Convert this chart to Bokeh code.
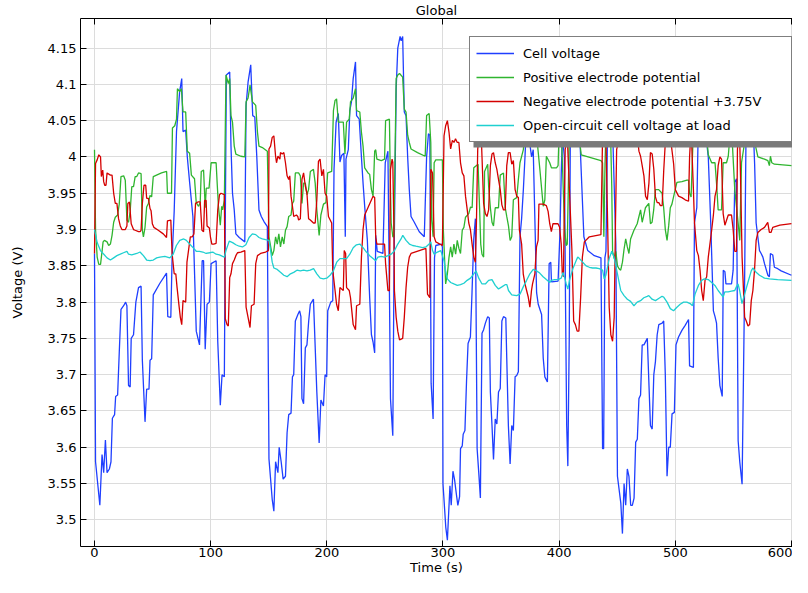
from bokeh.plotting import figure
from bokeh.models import (Range1d, FixedTicker, LinearAxis, Legend, LegendItem,
                          BoxAnnotation, CustomJSTickFormatter)
from bokeh.embed import file_html
from bokeh.resources import INLINE

# ---------------- data ----------------
x_ticks = [0, 100, 200, 300, 400, 500, 600]
y_ticks = [3.5, 3.55, 3.6, 3.65, 3.7, 3.75, 3.8, 3.85, 3.9, 3.95, 4.0, 4.05, 4.1, 4.15]
series_names = ["Cell voltage", "Positive electrode potential",
                "Negative electrode potential +3.75V", "Open-circuit cell voltage at load"]

cell_t = [0, 0.9, 4.6, 6.5, 7.9, 9.4, 10.8, 12.8, 14.2, 15.4, 17.3, 18.2, 19.9, 21.3, 22.8, 25.1, 26.8, 27.9, 29.3, 30.7,
          31.6, 33.6, 35.6, 37.9, 40.1, 41.2, 43.5, 44.9, 46.9, 47.8, 49.2, 50.6, 56.3, 62.0, 63.1, 65.7, 66.8, 68.6, 70.6, 73.3,
          75.1, 76.2, 78.5, 79.9, 81.9, 84.7, 87.6, 90.4, 92.7, 93.9, 95.3, 96.9, 98.9, 100.4, 104.7, 106.1, 108.3, 109.8, 111.8, 112.6,
          113.5, 116.4, 117.5, 118.8, 120.3, 121.7, 124.6, 129.4, 130.5, 132.2, 134.5, 136.2, 138.0, 139.7, 141.6, 143.6, 145.9, 148.8, 150.2, 153.0,
          154.4, 155.9, 157.9, 159.0, 160.7, 162.4, 164.4, 165.8, 167.2, 169.2, 170.4, 171.5, 172.9, 175.1, 176.6, 177.7, 178.6, 180.0, 181.5, 182.9,
          184.4, 185.8, 188.5, 191.4, 193.4, 194.9, 197.1, 198.5, 199.9, 200.8, 203.4, 205.1, 206.2, 208.0, 209.9, 211.3, 212.7, 214.7, 215.9, 216.5,
          218.5, 219.8, 221.2, 222.7, 224.7, 225.6, 227.9, 229.8, 231.2, 232.6, 234.9, 236.9, 238.4, 239.8, 241.2, 242.1, 243.4, 248.3, 250.3, 252.6,
          253.9, 254.8, 256.8, 257.9, 259.7, 261.1, 263.1, 264.0, 265.3, 266.7, 268.2, 269.6, 271.0, 272.5, 275.3, 279.6, 283.9, 285.9, 287.5, 288.7,
          289.8, 291.5, 292.7, 293.8, 298.6, 299.5, 300.0, 302.4, 303.8, 306.0, 307.1, 308.6, 310.0, 311.4, 312.8, 314.3, 315.1, 316.6, 317.4, 318.9,
          320.3, 321.6, 323.6, 325.0, 326.5, 327.9, 329.4, 330.8, 332.2, 333.6, 335.0, 336.5, 338.5, 339.9, 340.8, 342.2, 343.5, 345.0, 346.4, 347.8,
          349.3, 350.7, 352.1, 354.1, 354.9, 356.3, 357.8, 359.2, 360.6, 362.1, 363.5, 364.9, 366.3, 367.7, 369.2, 370.6, 372.0, 376.3, 377.7, 380.6,
          382.0, 384.9, 386.3, 387.7, 389.9, 391.4, 392.8, 393.4, 399.1, 400.8, 401.8, 402.8, 404.5, 405.5, 406.5, 407.5, 408.7, 409.7, 417.5, 421.3,
          424.6, 430.3, 436.0, 437.4, 438.3, 439.4, 440.3, 441.7, 446.0, 448.8, 450.2, 453.1, 454.5, 455.9, 457.3, 458.7, 460.1, 461.6, 463.0, 464.5,
          465.9, 467.3, 468.7, 470.1, 471.5, 473.0, 475.9, 478.6, 480.1, 481.5, 482.9, 484.4, 485.8, 488.7, 490.0, 491.4, 492.9, 494.3, 495.7, 497.2,
          499.2, 500.6, 502.8, 505.7, 508.5, 511.4, 512.3, 515.6, 516.5, 518.5, 519.9, 525.6, 528.4, 530.5, 532.8, 534.2, 535.5, 536.9, 538.4, 540.4,
          541.3, 542.7, 543.6, 548.4, 549.8, 551.2, 552.7, 554.1, 555.5, 557.5, 559.5, 561.0, 566.9, 568.3, 569.6, 572.5, 573.9, 575.4, 576.8, 579.7,
          581.0, 581.9, 583.9, 585.3, 588.2, 591.1, 600.0]
cell_v = [3.867, 3.58, 3.52, 3.59, 3.565, 3.61, 3.565, 3.57, 3.58, 3.64, 3.645, 3.67, 3.672, 3.73, 3.79, 3.795, 3.80, 3.795, 3.685, 3.683,
          3.75, 3.755, 3.80, 3.82, 3.822, 3.72, 3.635, 3.68, 3.68, 3.72, 3.722, 3.81, 3.826, 3.84, 3.78, 3.779, 3.86, 3.925, 4.035, 4.09,
          4.108, 4.035, 4.037, 4.0, 3.965, 3.918, 3.76, 3.741, 3.857, 3.857, 3.735, 3.797, 3.80, 3.853, 3.857, 3.746, 3.658, 3.70, 3.697, 3.91,
          4.113, 4.117, 4.015, 3.95, 3.927, 3.894, 3.889, 3.883, 4.071, 4.103, 4.127, 4.057, 4.055, 4.001, 3.927, 3.918, 3.911, 3.904, 3.584, 3.528,
          3.512, 3.58, 3.565, 3.60, 3.58, 3.556, 3.56, 3.62, 3.645, 3.647, 3.697, 3.70, 3.774, 3.783, 3.788, 3.78, 3.667, 3.66, 3.737, 3.741,
          3.774, 3.797, 3.804, 3.676, 3.606, 3.665, 3.657, 3.70, 3.697, 3.788, 3.80, 3.802, 3.983, 4.048, 4.06, 3.993, 4.002, 4.005, 3.89, 3.997,
          4.01, 4.064, 4.076, 4.108, 4.131, 4.057, 4.052, 4.0, 3.964, 3.932, 3.885, 3.806, 3.755, 3.745, 3.73, 3.892, 3.87, 3.867, 3.992, 4.008,
          3.816, 3.667, 3.616, 3.861, 4.094, 4.15, 4.166, 4.16, 4.166, 4.062, 4.057, 4.0, 3.955, 3.918, 3.91, 3.897, 3.89, 4.0, 4.032, 4.03,
          3.688, 3.639, 3.861, 3.878, 3.88, 3.876, 3.55, 3.49, 3.472, 3.547, 3.52, 3.567, 3.555, 3.537, 3.52, 3.532, 3.598, 3.602, 3.618, 3.623,
          3.692, 3.743, 3.752, 3.813, 3.887, 3.915, 3.598, 3.565, 3.53, 3.757, 3.762, 3.771, 3.78, 3.778, 3.676, 3.63, 3.583, 3.639, 3.632, 3.676,
          3.681, 3.774, 3.78, 3.778, 3.723, 3.63, 3.577, 3.63, 3.623, 3.697, 3.699, 3.704, 3.89, 3.915, 3.955, 4.0, 4.05, 4.0, 4.01, 3.813,
          3.797, 3.783, 3.723, 3.697, 3.69, 3.853, 3.855, 3.828, 3.829, 3.9, 3.976, 4.03, 4.0, 3.80, 3.63, 3.574, 3.75, 4.05, 4.04, 3.89,
          3.871, 3.864, 3.861, 3.598, 3.598, 3.861, 3.87, 4.04, 4.04, 3.88, 3.56, 3.523, 3.481, 3.55, 3.52, 3.57, 3.56, 3.52, 3.52, 3.53,
          3.607, 3.611, 3.667, 3.672, 3.741, 3.741, 3.75, 3.63, 3.625, 3.70, 3.718, 3.755, 3.769, 3.771, 3.774, 3.70, 3.56, 3.60, 3.60, 3.646,
          3.648, 3.741, 3.752, 3.761, 3.768, 3.776, 3.712, 3.71, 3.909, 3.93, 4.05, 4.04, 4.0, 3.909, 3.788, 3.78, 3.771, 3.723, 3.685, 3.67,
          3.844, 3.842, 3.825, 3.825, 3.844, 3.965, 3.97, 3.609, 3.58, 3.549, 3.80, 4.05, 4.05, 3.99, 3.909, 3.871, 3.867, 3.862, 3.853, 3.837,
          3.835, 3.867, 3.865, 3.848, 3.846, 3.843, 3.837]

pos_t = [0, 0.9, 2.3, 3.7, 5.2, 6.5, 7.4, 8.5, 10.8, 12.2, 13.7, 15.1, 16.5, 17.9, 19.9, 21.3, 22.8, 25.1, 26.5, 27.9,
         29.3, 30.7, 32.1, 33.6, 35.0, 36.4, 37.9, 40.1, 41.2, 42.1, 43.5, 44.9, 46.4, 47.8, 49.2, 50.6, 53.4, 57.7, 62.1, 62.8,
         66.3, 67.1, 69.1, 70.6, 71.4, 73.3, 74.8, 76.2, 78.5, 79.9, 81.9, 83.4, 86.1, 87.6, 89.6, 91.0, 91.9, 93.9, 95.3, 96.2,
         98.6, 100.4, 104.7, 105.6, 106.7, 108.3, 109.5, 110.3, 111.8, 113.2, 115.2, 116.4, 117.5, 118.8, 120.3, 121.7, 126.0, 129.4, 130.5, 132.2,
         133.9, 136.0, 138.8, 140.3, 141.6, 144.5, 148.8, 150.2, 153.0, 154.4, 155.9, 157.3, 158.7, 160.1, 161.6, 163.0, 164.4, 165.8, 167.2, 169.2,
         170.4, 171.5, 172.9, 175.7, 177.2, 178.6, 180.0, 181.5, 182.9, 184.3, 185.8, 188.5, 190.0, 191.4, 193.4, 194.9, 197.1, 199.2, 200.7, 204.2,
         205.7, 207.1, 208.4, 209.9, 214.2, 215.6, 217.0, 219.3, 220.4, 222.7, 224.7, 225.6, 228.4, 229.8, 231.2, 232.6, 235.5, 236.9, 238.4, 239.8,
         241.2, 242.1, 243.1, 246.9, 249.7, 250.6, 253.9, 254.8, 255.4, 256.8, 257.7, 259.7, 261.1, 262.6, 265.3, 266.7, 268.2, 269.6, 271.0, 272.5,
         278.1, 284.7, 285.9, 288.1, 289.5, 290.3, 291.5, 292.4, 293.8, 299.5, 300.3, 302.3, 303.8, 305.2, 306.6, 308.0, 309.4, 310.9, 312.3, 313.7,
         315.1, 316.6, 318.0, 319.4, 322.2, 323.7, 325.1, 326.5, 330.2, 331.5, 332.5, 333.6, 335.0, 335.8, 338.5, 339.3, 340.8, 342.2, 343.5, 345.0,
         347.8, 349.3, 352.1, 353.6, 354.9, 356.4, 357.8, 359.2, 360.6, 363.5, 364.9, 366.3, 369.2, 370.6, 372.7, 380.6, 383.4, 386.3, 387.7, 389.0,
         391.9, 393.4, 397.7, 399.1, 399.7, 401.4, 404.7, 406.1, 407.0, 409.0, 414.3, 419.0, 436.0, 437.4, 438.5, 439.5, 440.5, 444.0, 445.3, 446.0,
         447.4, 448.8, 450.2, 451.6, 453.0, 454.5, 455.9, 457.3, 458.7, 460.1, 461.5, 464.4, 467.2, 470.1, 471.5, 474.3, 477.2, 478.6, 480.0, 481.4,
         482.9, 485.7, 488.6, 490.0, 491.4, 492.9, 494.3, 495.7, 497.1, 498.5, 501.4, 505.7, 510.0, 511.4, 512.3, 513.6, 515.6, 520.4, 525.3, 528.4,
         531.3, 534.2, 535.5, 536.9, 539.8, 541.2, 544.1, 545.6, 548.1, 551.2, 554.1, 555.5, 557.0, 559.7, 565.0, 568.4, 571.1, 576.8, 579.7, 581.0,
         581.9, 583.1, 585.3, 600.0]
pos_v = [4.01, 3.90, 3.862, 3.852, 3.852, 3.87, 3.883, 3.885, 3.883, 3.878, 3.88, 3.892, 3.91, 3.917, 3.92, 3.935, 3.973, 3.974, 3.968, 3.913,
         3.91, 3.925, 3.959, 3.959, 3.973, 3.973, 3.978, 3.977, 3.899, 3.89, 3.903, 3.931, 3.936, 3.947, 3.945, 3.973, 3.975, 3.978, 3.98, 3.95,
         3.95, 4.04, 4.043, 4.052, 4.094, 4.09, 4.094, 4.062, 4.062, 4.008, 4.005, 3.975, 3.97, 3.937, 3.932, 3.937, 3.98, 3.982, 3.93, 3.957,
         3.957, 3.992, 3.992, 3.964, 3.932, 3.906, 3.932, 3.927, 3.941, 4.113, 4.101, 4.108, 4.057, 4.048, 4.015, 4.004, 4.001, 4.0, 4.076, 4.081,
         4.099, 4.076, 4.071, 4.034, 4.015, 4.013, 4.008, 3.89, 3.864, 3.871, 3.89, 3.88, 3.894, 3.876, 3.89, 3.88, 3.899, 3.904, 3.918, 3.92,
         3.936, 3.939, 3.978, 3.978, 3.974, 3.936, 3.964, 3.964, 3.948, 3.955, 3.98, 3.983, 3.964, 3.927, 3.892, 3.92, 3.935, 3.937, 3.978, 3.98,
         4.064, 4.078, 4.08, 4.048, 4.048, 4.004, 4.048, 4.052, 4.076, 4.081, 4.094, 4.064, 4.062, 4.034, 4.015, 3.985, 3.978, 3.976, 3.955, 3.946,
         4.008, 4.01, 3.997, 3.995, 3.997, 4.05, 4.052, 3.955, 3.909, 3.89, 3.89, 4.108, 4.113, 4.115, 4.11, 4.066, 4.062, 4.03, 4.02, 4.011,
         4.006, 4.001, 4.057, 4.06, 4.02, 3.913, 3.89, 3.992, 3.996, 3.996, 3.90, 3.825, 3.839, 3.862, 3.876, 3.862, 3.88, 3.866, 3.885, 3.874,
         3.867, 3.899, 3.903, 3.917, 3.922, 3.931, 3.93, 3.985, 3.99, 3.93, 3.88, 3.866, 3.862, 3.98, 3.99, 3.96, 3.93, 3.91, 3.905, 3.93,
         3.93, 3.975, 3.978, 3.93, 3.918, 3.905, 3.885, 3.89, 3.941, 3.944, 3.969, 3.992, 4.01, 4.04, 4.06, 4.03, 3.983, 3.932, 3.941, 4.001,
         3.992, 3.985, 3.985, 3.988, 4.02, 4.06, 3.90, 3.878, 3.88, 4.05, 4.07, 4.003, 3.995, 3.992, 3.89, 3.99, 4.05, 4.05, 3.96, 3.87,
         3.86, 3.87, 3.85, 3.846, 3.844, 3.855, 3.873, 3.887, 3.876, 3.867, 3.887, 3.899, 3.908, 3.927, 3.91, 3.93, 3.936, 3.908, 3.91, 3.927,
         3.955, 3.955, 3.95, 3.93, 3.90, 3.885, 3.905, 3.93, 3.935, 3.945, 3.965, 3.966, 3.968, 3.968, 3.95, 3.945, 4.04, 4.07, 4.06, 4.003,
         3.992, 3.992, 3.964, 3.927, 3.927, 3.992, 3.992, 4.001, 4.05, 3.955, 3.909, 3.885, 3.992, 4.02, 4.05, 4.02, 4.0, 3.997, 3.995, 3.988,
         4.001, 3.992, 3.99, 3.988]

neg_t = [0, 0.9, 2.3, 3.7, 5.2, 5.9, 7.1, 7.9, 8.8, 9.9, 10.8, 13.7, 15.1, 16.5, 17.9, 19.3, 20.7, 22.2, 23.6, 26.5,
         27.9, 28.7, 30.1, 31.6, 33.6, 35.0, 37.9, 39.3, 40.1, 41.2, 42.6, 44.1, 44.9, 46.4, 47.8, 48.7, 49.8, 51.1, 54.9, 59.2,
         62.0, 62.8, 65.7, 66.8, 68.6, 70.0, 71.1, 72.9, 73.9, 75.1, 76.2, 78.5, 79.6, 81.1, 82.5, 84.2, 85.6, 87.0, 89.0, 91.0,
         92.5, 93.9, 94.8, 96.1, 96.9, 98.9, 99.8, 101.0, 102.7, 104.7, 106.1, 107.6, 108.9, 111.8, 112.6, 114.1, 115.2, 116.4, 117.5, 118.8,
         120.3, 121.7, 123.1, 126.0, 129.4, 130.5, 132.2, 133.9, 135.1, 137.4, 138.8, 140.3, 143.0, 147.3, 149.7, 150.2, 151.6, 153.0, 154.4, 155.9,
         156.7, 157.9, 159.6, 160.1, 161.6, 163.0, 164.4, 165.8, 167.2, 168.1, 169.2, 170.1, 171.5, 173.8, 175.0, 175.7, 177.2, 178.6, 180.0, 181.5,
         182.9, 184.3, 185.8, 188.5, 190.0, 191.4, 192.8, 194.2, 195.7, 197.1, 198.5, 199.9, 201.4, 204.2, 205.1, 207.1, 208.4, 209.9, 211.3, 212.7,
         214.2, 215.0, 216.2, 217.0, 219.3, 220.4, 221.2, 222.7, 224.7, 225.6, 228.4, 229.8, 231.2, 232.6, 239.8, 241.2, 242.1, 243.1, 249.7, 250.6,
         252.6, 253.9, 254.8, 256.2, 256.8, 257.7, 258.2, 259.7, 261.1, 262.6, 265.3, 266.7, 268.2, 269.6, 271.0, 272.5, 279.6, 285.3, 286.7, 288.7,
         289.5, 291.0, 292.4, 293.8, 299.5, 300.9, 302.3, 303.8, 305.2, 306.6, 308.1, 309.5, 310.8, 312.3, 313.7, 315.1, 316.6, 318.0, 319.4, 320.9,
         322.2, 323.6, 325.0, 326.5, 327.9, 328.8, 329.9, 331.4, 332.5, 333.6, 335.0, 336.5, 337.9, 339.3, 340.8, 342.2, 343.5, 345.0, 346.4, 347.8,
         349.3, 350.7, 352.1, 353.6, 354.9, 356.3, 357.8, 359.2, 360.6, 362.1, 363.5, 364.9, 365.8, 367.7, 369.1, 370.6, 372.0, 373.4, 374.8, 376.2,
         377.1, 379.1, 380.5, 381.9, 382.6, 386.2, 389.0, 390.5, 391.9, 393.3, 394.7, 399.0, 400.4, 401.8, 402.7, 403.7, 405.2, 407.0, 408.6, 409.8,
         411.0, 412.5, 414.0, 415.5, 417.0, 418.5, 420.0, 421.7, 426.0, 436.0, 437.4, 440.0, 441.6, 443.1, 444.5, 446.0, 447.4, 448.5, 449.5, 455.0,
         460.0, 466.0, 468.7, 470.1, 471.5, 473.0, 474.4, 475.9, 477.3, 478.6, 480.1, 481.5, 482.9, 484.4, 485.8, 487.2, 488.7, 490.0, 491.4, 494.0,
         498.6, 500.0, 502.8, 505.7, 508.5, 511.4, 512.3, 513.6, 515.6, 516.5, 518.5, 519.9, 521.3, 522.7, 524.1, 525.6, 527.0, 528.4, 531.3, 532.8,
         534.2, 535.5, 536.9, 538.4, 539.8, 541.2, 542.7, 545.6, 548.4, 549.8, 551.2, 552.7, 553.5, 555.1, 556.4, 557.5, 559.7, 561.1, 562.6, 564.0,
         565.4, 566.8, 568.2, 569.6, 571.1, 573.9, 576.8, 579.6, 581.0, 582.4, 583.9, 590.0, 600.0]
neg_v = [3.867, 3.991, 3.996, 4.003, 4.0, 3.973, 3.982, 3.966, 3.961, 3.961, 3.978, 3.975, 3.975, 3.95, 3.936, 3.936, 3.915, 3.905, 3.90, 3.90,
         3.905, 3.936, 3.938, 3.908, 3.90, 3.899, 3.897, 3.897, 3.899, 3.936, 3.961, 3.961, 3.943, 3.943, 3.929, 3.926, 3.908, 3.903, 3.899, 3.894,
         3.889, 3.912, 3.913, 3.867, 3.839, 3.839, 3.82, 3.793, 3.779, 3.769, 3.802, 3.80, 3.855, 3.873, 3.89, 3.89, 3.894, 3.936, 3.938, 3.938,
         3.899, 3.897, 3.94, 3.94, 3.905, 3.902, 3.89, 3.88, 3.88, 3.881, 3.927, 3.948, 3.95, 3.948, 3.777, 3.769, 3.767, 3.834, 3.839, 3.853,
         3.858, 3.864, 3.868, 3.869, 3.871, 3.793, 3.779, 3.765, 3.795, 3.797, 3.853, 3.864, 3.867, 3.869, 3.871, 4.011, 4.015, 4.027, 4.029, 4.001,
         3.992, 4.001, 3.997, 4.006, 4.004, 4.006, 3.992, 3.974, 3.969, 3.974, 3.946, 3.936, 3.918, 3.92, 3.918, 3.913, 3.915, 3.969, 3.978, 3.96,
         3.95, 3.915, 3.913, 3.909, 3.909, 3.941, 3.994, 3.997, 3.974, 3.983, 3.95, 3.946, 3.918, 3.909, 3.844, 3.816, 3.797, 3.788, 3.82, 3.818,
         3.816, 3.871, 3.867, 3.82, 3.816, 3.806, 3.793, 3.769, 3.762, 3.795, 3.797, 3.862, 3.90, 3.92, 3.946, 3.944, 3.889, 3.88, 3.88, 3.853,
         3.816, 3.816, 3.983, 3.997, 3.993, 3.909, 3.816, 3.779, 3.76, 3.748, 3.75, 3.779, 3.82, 3.848, 3.862, 3.867, 3.871, 3.874, 3.811, 3.806,
         3.983, 3.978, 3.89, 3.883, 3.878, 4.029, 4.043, 4.05, 4.034, 4.011, 4.023, 4.02, 4.025, 4.02, 4.02, 3.992, 3.978, 3.974, 3.946, 3.927,
         3.909, 3.90, 3.881, 3.862, 3.855, 3.909, 4.01, 4.04, 4.05, 4.0, 3.936, 3.922, 3.918, 3.927, 3.988, 4.004, 4.006, 3.992, 3.983, 3.969,
         3.955, 3.934, 3.927, 3.927, 3.988, 4.006, 4.006, 3.99, 3.995, 3.955, 3.946, 3.944, 3.899, 3.88, 3.839, 3.825, 3.816, 3.807, 3.793, 3.816,
         3.825, 3.839, 3.876, 3.885, 3.935, 3.935, 3.933, 3.925, 3.908, 3.897, 3.908, 3.908, 3.903, 3.88, 3.84, 3.835, 4.01, 4.03, 3.965, 3.918,
         3.871, 3.774, 3.769, 3.76, 3.76, 3.806, 3.862, 3.883, 3.89, 3.893, 4.03, 4.05, 3.92, 3.793, 3.755, 3.746, 3.779, 3.909, 4.01, 4.05,
         4.04, 4.05, 4.008, 4.001, 3.988, 3.974, 3.946, 3.941, 3.964, 4.006, 4.004, 3.983, 3.945, 3.937, 3.937, 3.933, 3.933, 3.98, 4.02, 4.05,
         3.99, 3.955, 3.946, 3.944, 3.941, 3.939, 4.0, 4.04, 3.955, 3.91, 3.871, 3.864, 3.844, 3.816, 3.802, 3.83, 3.835, 3.862, 3.899, 3.92,
         3.946, 3.955, 3.988, 4.0, 3.997, 3.922, 3.906, 3.92, 3.92, 3.90, 3.87, 3.87, 4.01, 4.05, 3.955, 3.862, 3.779, 3.774, 3.767, 3.769,
         3.802, 3.816, 3.844, 3.885, 3.896, 3.90, 3.903, 3.91, 3.896, 3.896, 3.903, 3.906, 3.908]

ocv_t = [0, 2.3, 5.1, 8.0, 10.8, 13.7, 16.5, 19.3, 22.2, 25.0, 27.9, 29.3, 32.1, 36.4, 39.2, 42.1, 44.9, 47.8, 50.6, 53.5,
         56.3, 60.6, 64.8, 67.7, 70.5, 73.4, 76.8, 79.1, 81.9, 84.8, 87.6, 90.4, 93.3, 96.1, 99.0, 101.8, 104.7, 107.5, 110.3, 111.8,
         113.2, 116.0, 118.9, 121.7, 124.6, 127.4, 130.3, 133.1, 135.9, 138.8, 141.6, 144.5, 147.3, 150.2, 151.6, 153.0, 154.4, 157.3, 160.1, 163.0,
         165.8, 168.7, 171.5, 174.3, 177.2, 180.0, 182.9, 185.7, 188.6, 191.4, 194.3, 197.1, 199.9, 202.8, 205.6, 208.5, 211.3, 214.2, 217.0, 219.8,
         222.7, 225.5, 228.4, 231.2, 234.1, 236.9, 239.8, 242.0, 244.0, 246.9, 249.7, 252.6, 255.4, 258.3, 261.1, 263.9, 265.4, 268.2, 271.1, 273.9,
         276.7, 279.6, 282.4, 285.3, 288.1, 289.5, 291.0, 292.4, 295.2, 298.1, 300.9, 302.3, 303.8, 306.6, 309.4, 312.3, 315.1, 318.0, 320.8, 323.7,
         326.5, 328.5, 330.8, 333.6, 336.5, 339.3, 342.2, 345.0, 347.8, 350.7, 353.5, 355.0, 356.4, 359.2, 363.4, 366.3, 369.1, 372.0, 374.8, 377.7,
         380.5, 383.3, 386.2, 389.0, 391.9, 393.3, 396.1, 399.0, 401.8, 403.3, 404.7, 406.1, 407.5, 408.9, 411.8, 414.6, 416.0, 417.5, 420.3, 423.2,
         426.0, 428.8, 431.7, 434.5, 437.4, 438.8, 440.2, 441.6, 443.1, 445.3, 447.3, 450.2, 453.0, 455.9, 458.7, 461.5, 464.4, 467.2, 470.1, 472.9,
         475.8, 477.2, 480.0, 482.9, 485.7, 488.6, 490.0, 492.9, 495.7, 498.5, 501.4, 504.2, 507.1, 509.9, 512.8, 514.8, 517.0, 519.9, 522.7, 525.0,
         528.4, 531.3, 534.1, 536.9, 539.8, 541.2, 542.6, 545.5, 548.3, 551.2, 552.6, 554.0, 555.4, 557.4, 559.7, 562.5, 565.4, 566.8, 569.6, 572.5,
         576.8, 581.0, 588.1, 600.0]
ocv_v = [3.90, 3.882, 3.871, 3.866, 3.861, 3.858, 3.861, 3.864, 3.866, 3.868, 3.870, 3.866, 3.865, 3.867, 3.869, 3.864, 3.858, 3.857, 3.858, 3.861,
         3.862, 3.863, 3.861, 3.866, 3.878, 3.885, 3.887, 3.885, 3.880, 3.875, 3.870, 3.870, 3.869, 3.867, 3.868, 3.869, 3.866, 3.865, 3.863, 3.862,
         3.871, 3.884, 3.882, 3.879, 3.877, 3.876, 3.879, 3.889, 3.894, 3.893, 3.889, 3.887, 3.886, 3.885, 3.871, 3.855, 3.847, 3.845, 3.841, 3.837,
         3.835, 3.839, 3.841, 3.844, 3.843, 3.844, 3.843, 3.844, 3.846, 3.839, 3.833, 3.832, 3.833, 3.837, 3.843, 3.855, 3.860, 3.860, 3.860, 3.866,
         3.875, 3.879, 3.880, 3.875, 3.869, 3.864, 3.860, 3.857, 3.862, 3.863, 3.862, 3.864, 3.866, 3.871, 3.880, 3.887, 3.892, 3.885, 3.880, 3.878,
         3.877, 3.876, 3.875, 3.876, 3.880, 3.883, 3.871, 3.866, 3.869, 3.871, 3.857, 3.843, 3.832, 3.827, 3.825, 3.823, 3.824, 3.826, 3.830, 3.833,
         3.839, 3.843, 3.833, 3.825, 3.825, 3.830, 3.831, 3.823, 3.818, 3.821, 3.824, 3.824, 3.816, 3.810, 3.809, 3.811, 3.821, 3.830, 3.839, 3.845,
         3.843, 3.840, 3.835, 3.831, 3.827, 3.830, 3.831, 3.831, 3.833, 3.841, 3.834, 3.825, 3.818, 3.830, 3.846, 3.857, 3.862, 3.860, 3.855, 3.850,
         3.848, 3.847, 3.847, 3.846, 3.844, 3.832, 3.837, 3.848, 3.860, 3.870, 3.862, 3.839, 3.816, 3.809, 3.804, 3.801, 3.795, 3.800, 3.802, 3.806,
         3.808, 3.809, 3.804, 3.802, 3.805, 3.808, 3.807, 3.800, 3.791, 3.788, 3.793, 3.797, 3.800, 3.800, 3.798, 3.795, 3.811, 3.823, 3.830, 3.832,
         3.831, 3.827, 3.823, 3.816, 3.810, 3.807, 3.814, 3.814, 3.815, 3.816, 3.821, 3.825, 3.816, 3.798, 3.811, 3.827, 3.843, 3.847, 3.841, 3.837,
         3.833, 3.832, 3.831, 3.830]

colors = ["#1f3fff", "#2fb52f", "#d40000", "#1fd0d0"]

# ---------------- layout ----------------
FIG_W, FIG_H = 792, 577
B_LEFT, B_RIGHT, B_TOP, B_BOTTOM = 80, 0, 18, 31
FRAME_W = FIG_W - B_LEFT - B_RIGHT
FRAME_H = FIG_H - B_TOP - B_BOTTOM
X0, X1 = -12.05, 600.9
Y1 = 4.1908
Y0 = Y1 - FRAME_H / 725.7
PXX = FRAME_W / (X1 - X0)
PXY = FRAME_H / (Y1 - Y0)


def tx(px):
    return X0 + (px - B_LEFT) / PXX


def ty(py):
    return Y1 - (py - B_TOP) / PXY


FONT = "DejaVu Sans"

p = figure(width=FIG_W, height=FIG_H, output_backend="svg", toolbar_location=None,
           x_range=Range1d(X0, X1), y_range=Range1d(Y0, Y1),
           min_border_left=B_LEFT, min_border_right=B_RIGHT,
           min_border_top=B_TOP, min_border_bottom=B_BOTTOM,
           background_fill_color="white", border_fill_color="white",
           title="Global")
p.outline_line_color = None
p.title.align = "center"
p.title.offset = 7
p.title.standoff = 1
p.title.text_font = FONT
p.title.text_font_size = "13px"
p.title.text_font_style = "normal"
p.title.text_color = "black"

xt = FixedTicker(ticks=x_ticks)
yt = FixedTicker(ticks=y_ticks)
fmt = CustomJSTickFormatter(code="return String(Math.round(tick*100)/100);")

for ax in p.xaxis:
    ax.ticker = xt
    ax.formatter = fmt
    ax.major_label_standoff = 1
    ax.axis_label = "Time (s)"
    ax.axis_label_standoff = 0
for ax in p.yaxis:
    ax.ticker = yt
    ax.formatter = fmt
    ax.major_label_standoff = 4
    ax.axis_label = "Voltage (V)"
    ax.axis_label_standoff = 20
for ax in list(p.xaxis) + list(p.yaxis):
    ax.major_tick_in = 6
    ax.major_tick_out = 0
    ax.minor_tick_in = 0
    ax.minor_tick_out = 0
    ax.major_label_text_font = FONT
    ax.major_label_text_font_size = "13px"
    ax.major_label_text_color = "black"
    ax.axis_label_text_font = FONT
    ax.axis_label_text_font_size = "13px"
    ax.axis_label_text_font_style = "normal"
    ax.axis_label_text_color = "black"
    ax.axis_line_color = "black"
    ax.major_tick_line_color = "black"

top_axis = LinearAxis(ticker=xt, major_tick_in=6, major_tick_out=0, minor_tick_in=0, minor_tick_out=0,
                      major_label_standoff=0, major_label_text_font_size="0px",
                      major_label_text_alpha=0, axis_line_color="black")
p.add_layout(top_axis, "above")

p.xgrid.ticker = xt
p.ygrid.ticker = yt
p.xgrid.grid_line_color = "#dcdcdc"
p.ygrid.grid_line_color = "#dcdcdc"

renderers = []
for t, v, c in [(cell_t, cell_v, colors[0]), (pos_t, pos_v, colors[1]),
                (neg_t, neg_v, colors[2]), (ocv_t, ocv_v, colors[3])]:
    renderers.append(p.line(t, v, line_color=c, line_width=1.3))

# legend box position (pixels in the figure) and its drop shadow
LEG_L, LEG_T, LEG_B = 469, 38, 142
shadow = BoxAnnotation(left=tx(LEG_L + 4), right=tx(FIG_W + 5), top=ty(LEG_T + 5), bottom=ty(LEG_B + 5),
                       fill_color="#7a7a7a", fill_alpha=1.0, line_color=None)
p.add_layout(shadow)

legend = Legend(items=[LegendItem(label=n, renderers=[r]) for n, r in zip(series_names, renderers)],
                location=(LEG_L - B_LEFT, (B_TOP + FRAME_H) - LEG_B),
                border_line_color="black", border_line_width=1,
                background_fill_color="white", background_fill_alpha=1.0,
                padding=6, spacing=4, margin=0,
                glyph_width=38, glyph_height=20, label_height=20, label_width=262,
                label_standoff=9, label_text_font=FONT, label_text_font_size="13px",
                label_text_color="black")
p.add_layout(legend)

open("out.html", "w").write(file_html(p, INLINE))
